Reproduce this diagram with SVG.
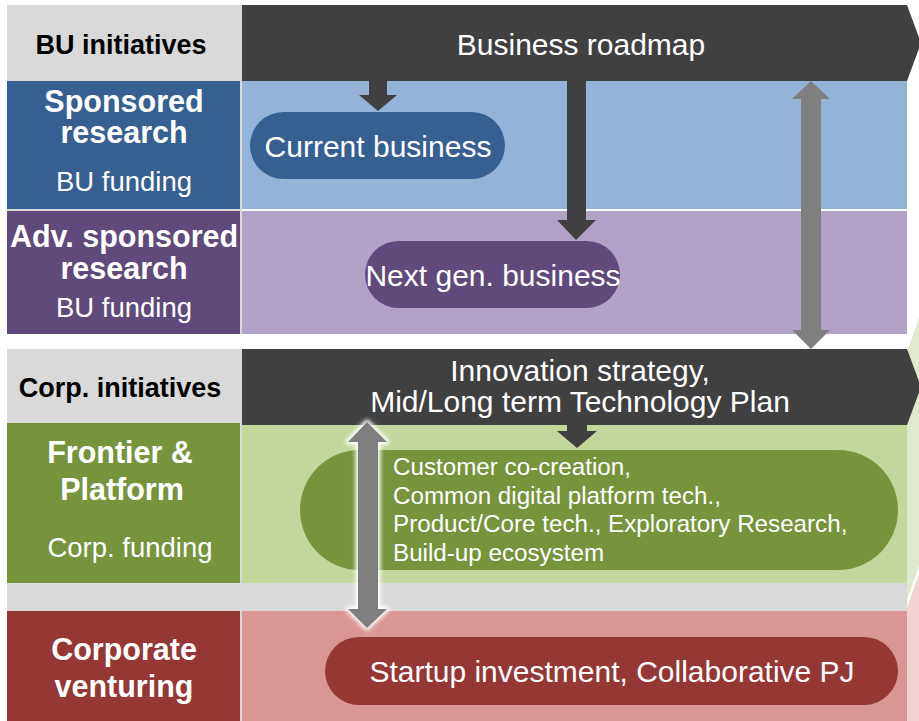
<svg xmlns="http://www.w3.org/2000/svg" width="919" height="721" viewBox="0 0 919 721">
<defs>
<style>
text{font-family:"Liberation Sans",Arial,sans-serif;}
.w{fill:#ffffff;}
.k{fill:#000000;font-weight:bold;font-size:27px;}
.h{font-size:30.5px;font-weight:bold;fill:#fff;}
.f{font-size:27.5px;fill:#fff;}
.p{font-size:30px;fill:#fff;}
.dark{fill:#404040;}
.gray{fill:#7f7f7f;}
</style>
<filter id="glow" x="-50%" y="-10%" width="200%" height="120%">
<feGaussianBlur stdDeviation="2"/>
</filter>
</defs>
<rect width="919" height="721" fill="#ffffff"/>
<!-- background shapes at right edge -->
<polygon points="919,318 907,352 907,600 919,566" fill="#dfe9cc"/>
<polygon points="919,574 907,608 907,721 919,721" fill="#f0d3d2"/>
<!-- left column base -->
<rect x="7" y="5" width="235" height="329" fill="#d9d9d9"/>
<rect x="7" y="349" width="235" height="372" fill="#d9d9d9"/>

<g id="bu-initiatives">
<rect x="7" y="5" width="233" height="75" fill="#d9d9d9"/>
<text class="k" x="121" y="54" text-anchor="middle">BU initiatives</text>
</g>
<g id="business-roadmap">
<polygon class="dark" points="242,5 907,5 921,43 907,81 242,81"/>
<text class="p" x="581" y="55" text-anchor="middle">Business roadmap</text>
</g>
<g id="sponsored-research">
<rect x="7" y="81" width="233" height="128" fill="#366092"/>
<text class="h" x="124" y="112" text-anchor="middle">Sponsored</text>
<text class="h" x="124" y="143" text-anchor="middle">research</text>
<text class="f" x="124" y="191" text-anchor="middle">BU funding</text>
</g>
<g id="sponsored-area">
<rect x="242" y="81" width="665" height="128" fill="#95b3d7"/>
</g>
<g id="adv-sponsored-research">
<rect x="7" y="211" width="233" height="123" fill="#604a7b"/>
<text class="h" x="124" y="247" text-anchor="middle">Adv. sponsored</text>
<text class="h" x="124" y="279" text-anchor="middle">research</text>
<text class="f" x="124" y="317" text-anchor="middle">BU funding</text>
</g>
<g id="adv-area">
<rect x="242" y="211" width="665" height="123" fill="#b3a2c7"/>
</g>
<g id="current-business">
<rect x="250" y="112" width="255" height="67" rx="33.5" fill="#366092"/>
<text class="p" x="378" y="157" text-anchor="middle">Current business</text>
</g>
<g id="next-gen-business">
<rect x="365" y="241" width="255" height="67" rx="33.5" fill="#604a7b"/>
<text class="p" x="493" y="286" text-anchor="middle">Next gen. business</text>
</g>

<g id="corp-initiatives">
<rect x="7" y="349" width="233" height="74" fill="#d9d9d9"/>
<text class="k" x="120" y="397" text-anchor="middle">Corp. initiatives</text>
</g>
<g id="innovation-strategy">
<polygon class="dark" points="242,349 907,349 921,387 907,425 242,425"/>
<text class="p" x="580" y="381" text-anchor="middle">Innovation strategy,</text>
<text class="p" x="580" y="412" text-anchor="middle">Mid/Long term Technology Plan</text>
</g>
<g id="frontier-platform">
<rect x="7" y="423" width="233" height="160" fill="#77933c"/>
<text class="h" x="120" y="463" text-anchor="middle">Frontier &amp;</text>
<text class="h" x="122" y="500" text-anchor="middle">Platform</text>
<text class="f" x="130" y="557" text-anchor="middle">Corp. funding</text>
</g>
<g id="frontier-area">
<rect x="242" y="425" width="665" height="158" fill="#c3d69b"/>
</g>
<g id="separator">
<rect x="242" y="583" width="665" height="28" fill="#d9d9d9"/>
</g>
<g id="corporate-venturing">
<rect x="7" y="611" width="233" height="110" fill="#953735"/>
<text class="h" x="124" y="660" text-anchor="middle">Corporate</text>
<text class="h" x="124" y="697" text-anchor="middle">venturing</text>
</g>
<g id="venturing-area">
<rect x="242" y="611" width="665" height="110" fill="#d99694"/>
</g>
<g id="frontier-activities">
<rect x="300" y="450" width="598" height="120" rx="60" fill="#77933c"/>
<text class="w" font-size="24.2" x="393">
<tspan x="393" y="475">Customer co-creation,</tspan>
<tspan x="393" y="504">Common digital platform tech.,</tspan>
<tspan x="393" y="532">Product/Core tech., Exploratory Research,</tspan>
<tspan x="393" y="561">Build-up ecosystem</tspan>
</text>
</g>
<g id="startup-investment">
<rect x="325" y="637" width="573" height="68" rx="34" fill="#953735"/>
<text class="p" x="612" y="682" text-anchor="middle">Startup investment, Collaborative PJ</text>
</g>

<g id="connectors">
<polygon class="dark" points="369,81 387,81 387,95 397,95 378,111 359,95 369,95"/>
<polygon class="dark" points="567,81 586,81 586,220 596,220 576,240 557,220 567,220"/>
<polygon class="dark" points="567,425 587,425 587,431 597,431 577,448 557,431 567,431"/>
<polygon class="gray" points="811,81 830,99 821,99 821,330 830,330 811,349 792,330 801,330 801,99 792,99"/>
<polygon points="367,422 387,442 378,442 378,609 387,609 367,628 348,609 358,609 358,442 348,442" fill="#ffffff" stroke="#ffffff" stroke-width="5" stroke-linejoin="round" filter="url(#glow)"/>
<polygon class="gray" points="367,422 387,442 378,442 378,609 387,609 367,628 348,609 358,609 358,442 348,442"/>
</g>
</svg>
